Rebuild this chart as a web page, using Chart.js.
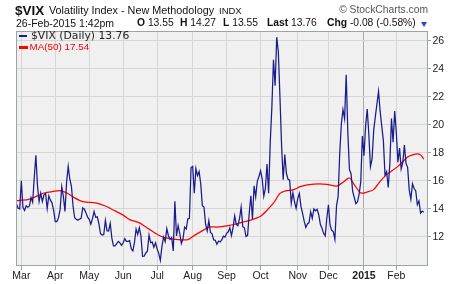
<!DOCTYPE html>
<html>
<head>
<meta charset="utf-8">
<script src="https://cdn.jsdelivr.net/npm/chart.js@4.4.1/dist/chart.umd.min.js"></script>
<style>
body{margin:0;background:#fff;width:460px;height:284px;overflow:hidden;position:relative;font-family:"Liberation Sans",Arial,sans-serif;color:#111;}
#caja{position:absolute;left:0;top:0;width:460px;height:284px;}
.t{position:absolute;white-space:nowrap;}
.b{font-weight:bold;}
</style>
</head>
<body>
<div id="caja"><canvas id="grafico" width="460" height="284"></canvas></div>

<div class="t b" style="left:15px;top:3.6px;font-size:13.5px;line-height:13.5px;">$VIX</div>
<div class="t" style="left:49px;top:4.9px;font-size:10.8px;line-height:10.8px;">Volatility Index - New Methodology</div>
<div class="t" style="left:219px;top:6px;font-size:9.5px;line-height:9.5px;">INDX</div>
<div class="t" style="right:32px;top:5.3px;font-size:10.3px;line-height:10.3px;color:#555;">© StockCharts.com</div>

<div class="t" style="left:16px;top:17.8px;font-size:10.5px;line-height:10.5px;">26-Feb-2015 1:42pm</div>
<div class="t" style="left:137px;top:18px;font-size:10.3px;line-height:10.3px;"><span class="b">O</span> 13.55</div>
<div class="t" style="left:180px;top:18px;font-size:10.3px;line-height:10.3px;"><span class="b">H</span> 14.27</div>
<div class="t" style="left:223px;top:18px;font-size:10.3px;line-height:10.3px;"><span class="b">L</span> 13.55</div>
<div class="t" style="left:267px;top:18px;font-size:10.3px;line-height:10.3px;"><span class="b">Last</span> 13.76</div>
<div class="t" style="left:327px;top:18px;font-size:10.3px;line-height:10.3px;"><span class="b">Chg</span> -0.08 (-0.58%)</div>
<div class="t" style="left:421px;top:22px;width:0;height:0;border-left:3.5px solid transparent;border-right:3.5px solid transparent;border-top:5px solid #2a44cc;"></div>

<div class="t" style="left:19px;top:34.5px;width:8px;height:2.5px;background:#1b1b8a;"></div>
<div class="t" style="left:31px;top:30.9px;font-family:'DejaVu Sans',sans-serif;font-size:10.8px;line-height:10.8px;color:#222;">$VIX (Daily) 13.76</div>
<div class="t" style="left:19px;top:46px;width:9px;height:2.5px;background:#ff0000;"></div>
<div class="t" style="left:29.5px;top:42.3px;font-size:9.9px;line-height:9.9px;color:#ff0000;">MA(50) 17.54</div>

<script>
// cierres diarios del $VIX, 26-feb-2014 a 26-feb-2015 (253 sesiones)
const vix = [
  14.35, 14.04, 14.00,
  16.00, 14.10, 13.89, 14.21, 14.11, 14.20, 14.80, 14.47, 16.22, 17.82, 15.64, 14.52, 15.12, 14.52, 15.00, 15.09, 14.02, 14.93, 14.62, 14.41, 13.88,
  13.09, 13.09, 13.37, 13.96, 15.57, 14.89, 13.82, 15.89, 17.03, 16.11, 15.61, 14.18, 13.36, 13.25, 13.19, 13.27, 13.32, 14.06, 13.97, 13.71, 13.41,
  13.25, 12.91, 13.29, 13.80, 13.40, 13.43, 12.92, 12.23, 12.13, 12.17, 13.17, 12.44, 12.42, 12.96, 11.91, 11.36, 11.36, 11.51, 11.68, 11.57, 11.40,
  11.58, 11.87, 11.68, 11.68, 11.73, 11.15, 10.99, 11.60, 12.56, 12.18, 12.65, 12.06, 10.61, 10.62, 10.85, 10.98, 12.13, 11.59, 11.63, 11.26, 11.57,
  11.15, 10.82, 10.32, 11.33, 11.98, 11.65, 12.59, 12.08, 11.82, 11.96, 11.00, 14.54, 12.06, 12.81, 12.24, 11.52, 11.84, 12.69, 12.56, 13.28, 13.33, 16.95,
  17.03, 15.12, 16.87, 16.37, 16.66, 15.77, 14.23, 14.13, 12.90, 12.42, 13.15, 12.32, 12.21, 11.78, 11.76, 11.47, 11.70, 11.63, 11.78, 12.05, 11.98,
  12.25, 12.36, 12.64, 12.09, 12.66, 13.50, 12.88, 12.80, 13.31, 14.12, 12.73, 12.65, 12.03, 12.11, 13.69, 14.93, 13.27, 15.64, 14.85, 15.98, 16.31,
  16.71, 16.16, 14.90, 15.46, 17.20, 15.11, 18.76, 21.24, 24.64, 22.79, 26.25, 25.20, 21.99, 18.57, 16.08, 17.87, 16.53, 16.11, 16.04, 14.39, 15.15, 14.52, 14.03,
  14.73, 15.10, 14.17, 13.67, 13.12, 12.67, 12.92, 13.02, 13.79, 13.31, 13.99, 13.86, 13.96, 13.58, 12.90, 12.62, 12.25, 12.07, 13.33,
  14.29, 12.85, 12.47, 12.38, 11.82, 14.21, 14.89, 17.99, 20.08, 21.08, 20.42, 23.57, 19.44, 16.81, 16.49, 15.25, 14.80, 14.37, 14.50, 15.06, 15.92, 19.20,
  17.79, 19.92, 21.12, 19.31, 17.01, 17.55, 19.60, 20.56, 21.48, 22.39, 20.95, 19.89, 18.85, 16.40, 16.66, 15.52, 17.22, 20.44, 18.76, 20.97,
  19.43, 17.33, 18.33, 16.85, 17.29, 18.55, 17.23, 16.96, 15.34, 14.69, 15.80, 15.45, 15.29, 14.30, 14.56, 13.69, 13.84, 13.76
];

// media movil de 50 sesiones (sesion, valor)
const maSesion = [0, 7, 11, 17, 23, 27, 31, 36, 41, 49, 55, 61, 66, 70, 76, 82, 86, 91, 100, 106, 110, 116, 119, 124, 132, 139, 145, 151, 155, 159, 163, 167, 171, 176, 184, 192, 198, 202, 206, 209, 213, 217, 221, 225, 229, 236, 242, 245, 248, 250, 252];
const maValor  = [14.59, 14.66, 14.82, 15.13, 15.25, 15.30, 15.15, 14.78, 14.52, 14.42, 14.20, 13.85, 13.55, 13.23, 13.00, 12.55, 12.25, 11.97, 11.81, 11.80, 12.10, 12.50, 12.70, 12.70, 12.82, 13.02, 13.20, 13.47, 13.90, 14.40, 15.10, 15.30, 15.35, 15.60, 15.76, 15.75, 15.62, 15.89, 16.20, 15.72, 15.13, 15.20, 15.37, 15.96, 16.44, 17.03, 17.70, 17.85, 17.93, 17.85, 17.54];

// primera sesion de cada mes y su etiqueta
const mesSesion = [3, 24, 45, 66, 87, 109, 130, 151, 174, 193, 215, 235];
const mesEtiqueta = ['Mar', 'Apr', 'May', 'Jun', 'Jul', 'Aug', 'Sep', 'Oct', 'Nov', 'Dec', '2015', 'Feb'];

const ticksY = [12, 14, 16, 18, 20, 22, 24, 26];

const marco = {
  id: 'marco',
  beforeDraw(chart){
    const {ctx, chartArea: a} = chart;
    ctx.save();
    ctx.fillStyle = '#f0f0f0';
    ctx.fillRect(a.left, a.top, a.width, a.height);
    ctx.restore();
  },
  afterDraw(chart){
    const {ctx, chartArea: a} = chart;
    ctx.save();
    ctx.strokeStyle = '#9aa6a6';
    ctx.lineWidth = 1;
    ctx.strokeRect(a.left + 0.5, a.top + 0.5, a.width - 1, a.height - 1);
    ctx.restore();
  }
};

let canvas = document.getElementById('grafico').getContext('2d');
let datos = {
  datasets: [{
    label: '$VIX (Daily)',
    data: vix.map((v, i) => ({x: i, y: v})),
    borderColor: '#1b1b8a',
    borderWidth: 1.25,
    pointRadius: 0,
    tension: 0
  }, {
    label: 'MA(50)',
    data: maSesion.map((s, i) => ({x: s, y: maValor[i]})),
    borderColor: '#ff0000',
    borderWidth: 1.25,
    pointRadius: 0,
    tension: 0.25
  }]
};
let opciones = {
  responsive: false,
  animation: false,
  layout: {padding: {left: 16, top: 31, right: 0, bottom: 0}},
  plugins: {legend: {display: false}, tooltip: {enabled: false}},
  scales: {
    x: {
      type: 'linear',
      min: -0.3,
      max: 254.6,
      afterBuildTicks: s => { s.ticks = mesSesion.map(v => ({value: v})); },
      afterFit: s => { s.height = 18; },
      border: {display: false},
      grid: {
        color: c => c.index === 10 ? '#a9a9a9' : '#d6d6d6',
        tickColor: '#9aa6a6',
        tickLength: 4
      },
      ticks: {
        autoSkip: false,
        maxRotation: 0,
        padding: 0,
        color: '#222',
        font: c => ({family: 'Liberation Sans', size: 10.5, weight: c.index === 10 ? 'bold' : 'normal'}),
        callback: (v, i) => mesEtiqueta[i]
      }
    },
    y: {
      position: 'right',
      min: 9.92,
      max: 26.69,
      afterBuildTicks: s => { s.ticks = ticksY.map(v => ({value: v})); },
      afterFit: s => { s.width = 32; },
      border: {display: false},
      grid: {color: '#d6d6d6', tickColor: '#9aa6a6', tickLength: 3},
      ticks: {
        padding: 1.5,
        color: '#222',
        font: {family: 'Liberation Sans', size: 10.5}
      }
    }
  }
};
let G1 = new Chart(canvas, {
  type: 'line',
  data: datos,
  options: opciones,
  plugins: [marco]
});
</script>
</body>
</html>
